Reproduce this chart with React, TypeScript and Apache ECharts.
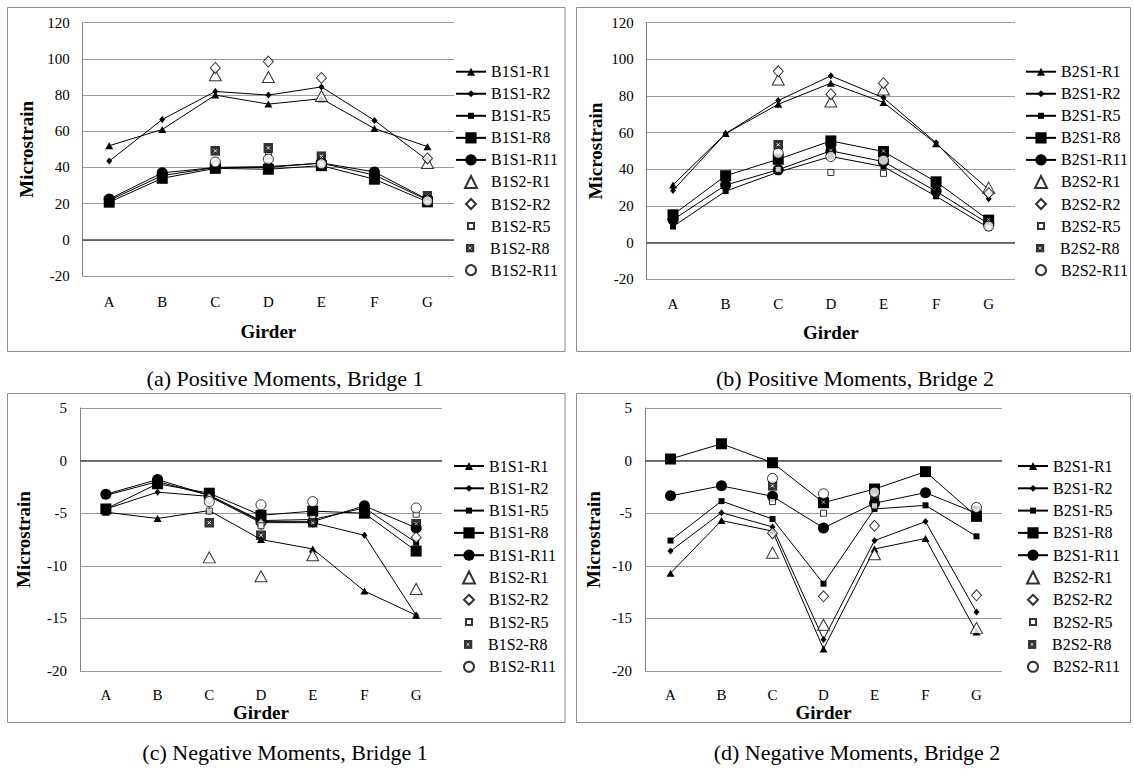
import React, { useEffect, useRef } from 'react';
import * as echarts from 'echarts';

// ---------- data ----------
const girders = ['A', 'B', 'C', 'D', 'E', 'F', 'G'];

const bridge1Names = ['B1S1-R1', 'B1S1-R2', 'B1S1-R5', 'B1S1-R8', 'B1S1-R11', 'B1S2-R1', 'B1S2-R2', 'B1S2-R5', 'B1S2-R8', 'B1S2-R11'];
const bridge2Names = ['B2S1-R1', 'B2S1-R2', 'B2S1-R5', 'B2S1-R8', 'B2S1-R11', 'B2S2-R1', 'B2S2-R2', 'B2S2-R5', 'B2S2-R8', 'B2S2-R11'];

// (a) Positive moments, Bridge 1
const b1PosS1R1 = [52, 61, 80, 75, 78, 61.5, 51.5];
const b1PosS1R2 = [43.5, 66.5, 82, 80, 84.5, 66, 44];
const b1PosS1R5 = [21.8, 35.5, 40, 40.5, 42.3, 35.8, 22];
const b1PosS1R8 = [20.8, 34, 39.5, 39, 41, 33.5, 21];
const b1PosS1R11 = [22.5, 37, 40, 40, 42.5, 37.5, 22.3];
const b1PosS2R1 = [null, null, 91, 90, 79.5, null, 42.5];
const b1PosS2R2 = [null, null, 95, 98.5, 89.5, null, 45];
const b1PosS2R5 = [null, null, 42, 46.5, 42, null, 22];
const b1PosS2R8 = [null, null, 49.2, 50.8, 46.2, null, 24.3];
const b1PosS2R11 = [null, null, 43, 44.6, 42, null, 21.5];

// (b) Positive moments, Bridge 2
const b2PosS1R1 = [31.5, 59.5, 75.5, 87, 76.5, 54, 29];
const b2PosS1R2 = [28.5, 59.5, 77.5, 91, 79, 54.5, 24];
const b2PosS1R5 = [8.8, 28.1, 38.5, 47, 41.5, 25.3, 8.1];
const b2PosS1R8 = [15.2, 36.5, 45.5, 55.5, 49.7, 33.2, 12.3];
const b2PosS1R11 = [12.5, 31.4, 39.8, 50.1, 44.2, 28, 10.3];
const b2PosS2R1 = [null, null, 89, 77, 83.5, null, 30];
const b2PosS2R2 = [null, null, 93.5, 81, 87, null, 27];
const b2PosS2R5 = [null, null, 40, 38.3, 37.8, null, 8.5];
const b2PosS2R8 = [null, null, 53.4, 50.3, 50, null, 12.5];
const b2PosS2R11 = [null, null, 48.8, 47, 45, null, 9];

// (c) Negative moments, Bridge 1
const b1NegS1R1 = [-4.9, -5.5, -4.75, -7.5, -8.4, -12.4, -14.7];
const b1NegS1R2 = [-4.6, -3.0, -3.4, -5.9, -5.9, -7.1, -14.7];
const b1NegS1R5 = [-3.3, -2.0, -3.3, -5.7, -5.6, -4.5, -7.8];
const b1NegS1R8 = [-4.6, -2.2, -3.1, -5.2, -4.8, -5.0, -8.6];
const b1NegS1R11 = [-3.2, -1.8, -3.3, -5.8, -5.8, -4.3, -6.4];
const b1NegS2R1 = [null, null, -9.2, -11.0, -9.0, null, -12.2];
const b1NegS2R2 = [null, null, -3.6, -6.0, -5.8, null, -7.3];
const b1NegS2R5 = [null, null, -4.8, -6.2, -5.5, null, -5.1];
const b1NegS2R8 = [null, null, -5.9, -7.1, -5.9, null, -6.0];
const b1NegS2R11 = [null, null, -3.9, -4.2, -3.9, null, -4.5];

// (d) Negative moments, Bridge 2
const b2NegS1R1 = [-10.7, -5.7, -6.7, -17.9, -8.4, -7.4, -16.3];
const b2NegS1R2 = [-8.6, -4.95, -6.3, -17.0, -7.6, -5.8, -14.4];
const b2NegS1R5 = [-7.6, -3.85, -5.55, -11.7, -4.6, -4.25, -7.2];
const b2NegS1R8 = [0.15, 1.6, -0.2, -4.0, -2.7, -1.05, -5.3];
const b2NegS1R11 = [-3.35, -2.4, -3.4, -6.4, -4.05, -3.05, -5.0];
const b2NegS2R1 = [null, null, -8.75, -15.6, -8.9, null, -15.9];
const b2NegS2R2 = [null, null, -6.9, -12.9, -6.2, null, -12.8];
const b2NegS2R5 = [null, null, -3.9, -5.0, -4.3, null, -4.7];
const b2NegS2R8 = [null, null, -2.4, -3.95, -3.3, null, -4.75];
const b2NegS2R11 = [null, null, -1.7, -3.15, -3.0, null, -4.45];

const captions = ['(a) Positive Moments, Bridge 1', '(b) Positive Moments, Bridge 2', '(c) Negative Moments, Bridge 1', '(d) Negative Moments, Bridge 2'];

// ---------- styles ----------
const FONT = '"Liberation Serif", serif';
const xSquare =
  'image://data:image/svg+xml;utf8,' +
  encodeURIComponent(
    "<svg xmlns='http://www.w3.org/2000/svg' width='40' height='40' viewBox='0 0 10 10'><rect width='10' height='10' fill='black'/><path d='M3.4 3.4L6.6 6.6M6.6 3.4L3.4 6.6' stroke='white' stroke-width='0.9'/></svg>"
  );

// line (S1) markers then scatter (S2) markers
const markerStyles = [
  { symbol: 'triangle', size: [8, 7], open: false, legendH: 10 },
  { symbol: 'diamond', size: [6, 7], open: false, legendH: 8.5 },
  { symbol: 'rect', size: 6, open: false, legendH: 7.5 },
  { symbol: 'rect', size: 11, open: false, legendH: 14 },
  { symbol: 'circle', size: 11, open: false, legendH: 14 },
  { symbol: 'triangle', size: [12, 11], open: true, legendH: 12 },
  { symbol: 'diamond', size: [10, 11], open: true, legendH: 10 },
  { symbol: 'rect', size: 6, open: true, legendH: 6 },
  { symbol: xSquare, size: 10, open: false, legendH: 9 },
  { symbol: 'circle', size: 10, open: true, legendH: 10 },
];

const panels = [
  {
    names: bridge1Names,
    data: [b1PosS1R1, b1PosS1R2, b1PosS1R5, b1PosS1R8, b1PosS1R11, b1PosS2R1, b1PosS2R2, b1PosS2R5, b1PosS2R8, b1PosS2R11],
    grid: { left: 82.7, top: 22.7, width: 371.3, height: 253.3 },
    y: { min: -20, max: 120, interval: 20 },
    box: [7.5, 7.5, 557.5, 344],
    caption: [285, 378],
    legend: [455, 71.7, 22.05],
    yNameGap: 47,
    xNameGap: 46,
    xLabelMargin: 18,
  },
  {
    names: bridge2Names,
    data: [b2PosS1R1, b2PosS1R2, b2PosS1R5, b2PosS1R8, b2PosS1R11, b2PosS2R1, b2PosS2R2, b2PosS2R5, b2PosS2R8, b2PosS2R11],
    grid: { left: 646.7, top: 22.7, width: 368.3, height: 256.6 },
    y: { min: -20, max: 120, interval: 20 },
    box: [576.5, 7.5, 554, 344],
    caption: [855, 378],
    legend: [1025, 71.7, 22.05],
    yNameGap: 42,
    xNameGap: 44,
    xLabelMargin: 17,
  },
  {
    names: bridge1Names,
    data: [b1NegS1R1, b1NegS1R2, b1NegS1R5, b1NegS1R8, b1NegS1R11, b1NegS2R1, b1NegS2R2, b1NegS2R5, b1NegS2R8, b1NegS2R11],
    grid: { left: 80, top: 408, width: 362, height: 263 },
    y: { min: -20, max: 5, interval: 5 },
    box: [7.5, 393.5, 557.5, 329],
    caption: [285, 752],
    legend: [453, 466, 22.3],
    yNameGap: 47,
    xNameGap: 31,
    xLabelMargin: 16,
  },
  {
    names: bridge2Names,
    data: [b2NegS1R1, b2NegS1R2, b2NegS1R5, b2NegS1R8, b2NegS1R11, b2NegS2R1, b2NegS2R2, b2NegS2R5, b2NegS2R8, b2NegS2R11],
    grid: { left: 645, top: 408, width: 357, height: 263 },
    y: { min: -20, max: 5, interval: 5 },
    box: [576.5, 393.5, 554, 329],
    caption: [857, 752],
    legend: [1017, 466, 22.3],
    yNameGap: 42,
    xNameGap: 31,
    xLabelMargin: 16,
  },
];

function buildOption() {
  const grids: any[] = [];
  const xAxes: any[] = [];
  const yAxes: any[] = [];
  const series: any[] = [];
  const legends: any[] = [];
  const graphics: any[] = [];

  panels.forEach((p, pi) => {
    grids.push({ ...p.grid, containLabel: false, outerBoundsMode: 'none' });
    xAxes.push({
      type: 'category',
      gridIndex: pi,
      data: girders,
      boundaryGap: true,
      axisLine: { show: false, onZero: false },
      axisTick: { show: false },
      splitLine: { show: false },
      axisLabel: { color: '#000', fontFamily: FONT, fontSize: 15, margin: p.xLabelMargin },
      name: 'Girder',
      nameLocation: 'middle',
      nameGap: p.xNameGap,
      nameTextStyle: { color: '#000', fontFamily: FONT, fontSize: 19, fontWeight: 'bold' },
    });
    yAxes.push({
      type: 'value',
      gridIndex: pi,
      min: p.y.min,
      max: p.y.max,
      interval: p.y.interval,
      axisLine: { show: true, onZero: false, lineStyle: { color: '#808080', width: 1 } },
      axisTick: { show: false },
      splitLine: { show: true, lineStyle: { color: '#999999', width: 1 } },
      axisLabel: { color: '#000', fontFamily: FONT, fontSize: 15, margin: 13 },
      name: 'Microstrain',
      nameLocation: 'middle',
      nameGap: p.yNameGap,
      nameTextStyle: { color: '#000', fontFamily: FONT, fontSize: 19, fontWeight: 'bold' },
    });

    const iconCenter = p.legend[0] + 15;
    const textLeft = p.legend[0] + 35;

    p.names.forEach((name, si) => {
      const st = markerStyles[si];
      const isLine = si < 5;
      const s: any = {
        name,
        type: isLine ? 'line' : 'scatter',
        xAxisIndex: pi,
        yAxisIndex: pi,
        data: p.data[si].map((v) => (v === null ? '-' : v)),
        symbol: st.symbol,
        symbolSize: st.size,
        showSymbol: true,
        itemStyle: st.open
          ? { color: '#fff', borderColor: '#000', borderWidth: 1 }
          : { color: '#000', borderColor: '#000', borderWidth: 0 },
        emphasis: { disabled: true },
        silent: true,
        z: isLine ? 3 : 4,
      };
      if (isLine) {
        s.lineStyle = { color: '#000', width: 1 };
        s.color = '#000';
        s.smooth = false;
      }
      if (si === 0) {
        s.markLine = {
          silent: true,
          symbol: 'none',
          label: { show: false },
          lineStyle: { color: '#4d4d4d', width: 1.5, type: 'solid' },
          data: [{ yAxis: 0 }],
          z: 2,
        };
      }
      series.push(s);

      const lh = st.legendH;
      const iw = isLine ? 30 : lh;
      const left = isLine ? p.legend[0] : iconCenter - lh / 2;
      const padLeft = textLeft - (left + iw + 5);
      legends.push({
        show: true,
        data: [name],
        orient: 'vertical',
        left,
        top: p.legend[1] + si * p.legend[2] - 8,
        padding: 0,
        itemWidth: iw,
        itemHeight: lh,
        itemGap: 0,
        selectedMode: false,
        textStyle: {
          color: '#000',
          fontFamily: FONT,
          fontSize: 16,
          lineHeight: 16,
          padding: [0, 0, 0, Math.max(0, padLeft)],
        },
      });
    });

    graphics.push({
      type: 'rect',
      shape: { x: p.box[0], y: p.box[1], width: p.box[2], height: p.box[3] },
      style: { fill: 'none', stroke: '#8c8c8c', lineWidth: 1 },
      silent: true,
      z: -1,
    });
    graphics.push({
      type: 'text',
      x: p.caption[0],
      y: p.caption[1],
      style: {
        text: captions[pi],
        fill: '#000',
        font: `22px ${FONT}`,
        align: 'center',
        verticalAlign: 'middle',
        textAlign: 'center',
        textVerticalAlign: 'middle',
      },
      silent: true,
    });
  });

  return {
    animation: false,
    backgroundColor: '#fff',
    textStyle: { fontFamily: FONT },
    grid: grids,
    xAxis: xAxes,
    yAxis: yAxes,
    legend: legends,
    series,
    graphic: { elements: graphics },
  };
}

export default function App() {
  const ref = useRef<HTMLDivElement>(null);
  useEffect(() => {
    if (!ref.current) return;
    const chart = echarts.init(ref.current, null, { renderer: 'svg' });
    chart.setOption(buildOption() as any);
    return () => chart.dispose();
  }, []);
  return (
    <div
      ref={ref}
      style={{ position: 'absolute', left: 0, top: 0, width: 1134, height: 783, background: '#fff' }}
    />
  );
}
